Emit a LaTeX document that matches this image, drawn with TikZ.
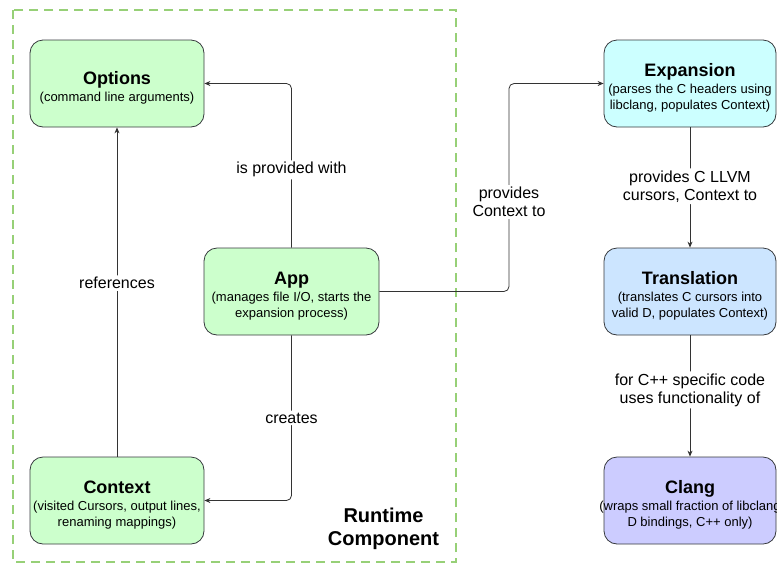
\documentclass[tikz,border=0pt]{standalone}
\usepackage{fontspec}
\setmainfont{Liberation Sans}
\usetikzlibrary{arrows.meta}
\definecolor{boxline}{HTML}{36393D}
\definecolor{edgeline}{HTML}{333333}
\definecolor{greenfill}{HTML}{CCFFCC}
\definecolor{cyanfill}{HTML}{CCFFFF}
\definecolor{bluefill}{HTML}{CCE5FF}
\definecolor{violetfill}{HTML}{CCCCFF}
\definecolor{groupline}{HTML}{97D077}
\tikzset{
  comp/.style={draw=boxline, line width=0.8pt, rounded corners=13pt,
    minimum width=174pt, minimum height=87pt, align=center, inner sep=0pt,
    font=\fontsize{13}{16}\selectfont},
  edge/.style={draw=edgeline, line width=0.8pt, rounded corners=5pt,
    -{Stealth[length=6pt,width=5pt]}},
  lbl/.style={fill=white, inner sep=2pt, align=center,
    font=\fontsize{16}{18}\selectfont},
  ttl/.style={font=\fontsize{20}{23}\selectfont\bfseries}
}
% bold title line of a component; the strut lowers the text block a little
\newcommand{\comptitle}[1]{{\fontsize{18}{20}\selectfont\bfseries\rule{0pt}{21pt}#1}\\[1pt]}
\begin{document}
\begin{tikzpicture}[x=1pt,y=-1pt]
\useasboundingbox (0,0) rectangle (777,566);

% runtime component group
\draw[groupline, line width=2.3pt, dash pattern=on 9pt off 6pt]
  (13,10) rectangle (456,562);
\node[ttl, align=center] (rtc) at (383.5,528.5) {Runtime\\Component};

% components
\node[comp, fill=greenfill] (options) at (117,83.5)
  {\comptitle{Options}(command line arguments)};
\node[comp, fill=greenfill, minimum width=175pt] (app) at (291.5,291.5)
  {\comptitle{App}(manages file I/O, starts the\\expansion process)};
\node[comp, fill=greenfill] (context) at (117,500.5)
  {\comptitle{Context}(visited Cursors, output lines,\\renaming mappings)};
\node[comp, fill=cyanfill, minimum width=172pt] (expansion) at (690,83.5)
  {\comptitle{Expansion}(parses the C headers using\\libclang, populates Context)};
\node[comp, fill=bluefill, minimum width=172pt] (translation) at (690,291.5)
  {\comptitle{Translation}(translates C cursors into\\valid D, populates Context)};
\node[comp, fill=violetfill, minimum width=172pt] (clang) at (690,500.5)
  {\comptitle{Clang}\makebox[150pt][c]{(wraps small fraction of libclang}\\D bindings, C++ only)};

% connectors
\draw[edge] (app.north) |- node[lbl, pos=0.237] {is provided with} (options.east);
\draw[edge] (context.north) -- node[lbl, pos=0.527] {references} (options.south);
\draw[edge] (app.south) |- node[lbl, pos=0.25] {creates} (context.east);
\coordinate (k1) at (509,291.5);
\coordinate (k2) at (509,83.5);
\draw[edge] (app.east) -- (k1) -- node[lbl, pos=0.43] {provides\\Context to} (k2) -- (expansion.west);
\draw[edge] (expansion.south) -- node[lbl, pos=0.49] {provides C LLVM\\cursors, Context to} (translation.north);
\draw[edge] (translation.south) -- node[lbl, pos=0.45] {for C++ specific code\\uses functionality of} (clang.north);
\end{tikzpicture}
\end{document}
